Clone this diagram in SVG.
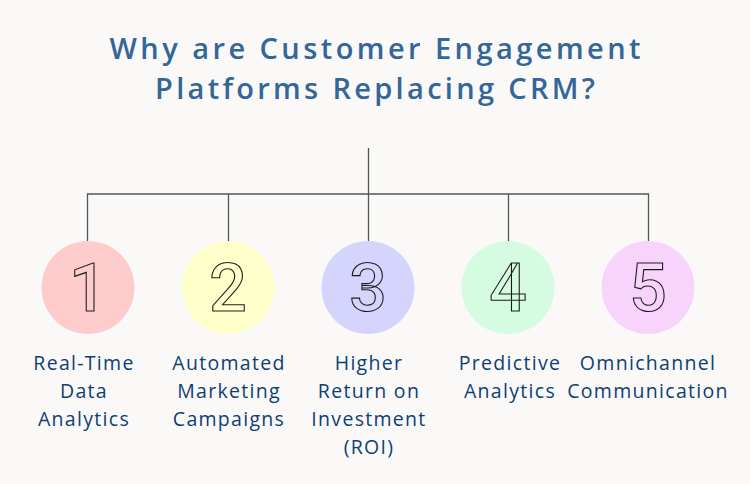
<svg xmlns="http://www.w3.org/2000/svg" width="750" height="484" viewBox="0 0 750 484">
<style>
.title{font-family:"Open Sans","Liberation Sans",sans-serif;font-weight:600;font-size:29px;fill:#336699;text-anchor:middle}
.lbl{font-family:"Open Sans","Liberation Sans",sans-serif;font-size:19.5px;letter-spacing:1.3px;fill:#0d3f73;text-anchor:middle}
.num{font-family:"Roboto","Liberation Sans",sans-serif;font-weight:500;font-size:66px;fill:none;stroke:#1a1a1a;stroke-width:1.1;text-anchor:middle}
.conn{stroke:#555;stroke-width:1.3;fill:none}
</style>
<rect width="750" height="484" fill="#faf9f8"/>
<text class="title" x="375" y="59" textLength="531" lengthAdjust="spacing">Why are Customer Engagement</text>
<text class="title" x="375" y="99" textLength="440" lengthAdjust="spacing">Platforms Replacing CRM?</text>
<g id="connectors">
<path class="conn" d="M368.5 148V194 M87.5 241V194H648.5V241 M228.5 194V241 M368.5 194V241 M508.5 194V241"/>
</g>
<g id="n1"><circle cx="88" cy="287.5" r="46.5" fill="#ffcccc"/><text class="num" x="88" y="311">1</text>
<text class="lbl" x="84" y="370">Real-Time</text><text class="lbl" x="84" y="398">Data</text><text class="lbl" x="84" y="426">Analytics</text></g>
<g id="n2"><circle cx="228" cy="287.5" r="46.5" fill="#ffffcc"/><text class="num" x="228" y="311">2</text>
<text class="lbl" x="229" y="370">Automated</text><text class="lbl" x="229" y="398">Marketing</text><text class="lbl" x="229" y="426">Campaigns</text></g>
<g id="n3"><circle cx="368" cy="287.5" r="46.5" fill="#d4d4fc"/><text class="num" x="368" y="311">3</text>
<text class="lbl" x="369" y="370">Higher</text><text class="lbl" x="369" y="398">Return on</text><text class="lbl" x="369" y="426">Investment</text><text class="lbl" x="369" y="454">(ROI)</text></g>
<g id="n4"><circle cx="508" cy="287.5" r="46.5" fill="#d5fbe1"/><text class="num" x="508" y="311">4</text>
<text class="lbl" x="510" y="370">Predictive</text><text class="lbl" x="510" y="398">Analytics</text></g>
<g id="n5"><circle cx="648" cy="287.5" r="46.5" fill="#f8d4fc"/><text class="num" x="648" y="311">5</text>
<text class="lbl" x="648" y="370">Omnichannel</text><text class="lbl" x="648" y="398">Communication</text></g>
</svg>
